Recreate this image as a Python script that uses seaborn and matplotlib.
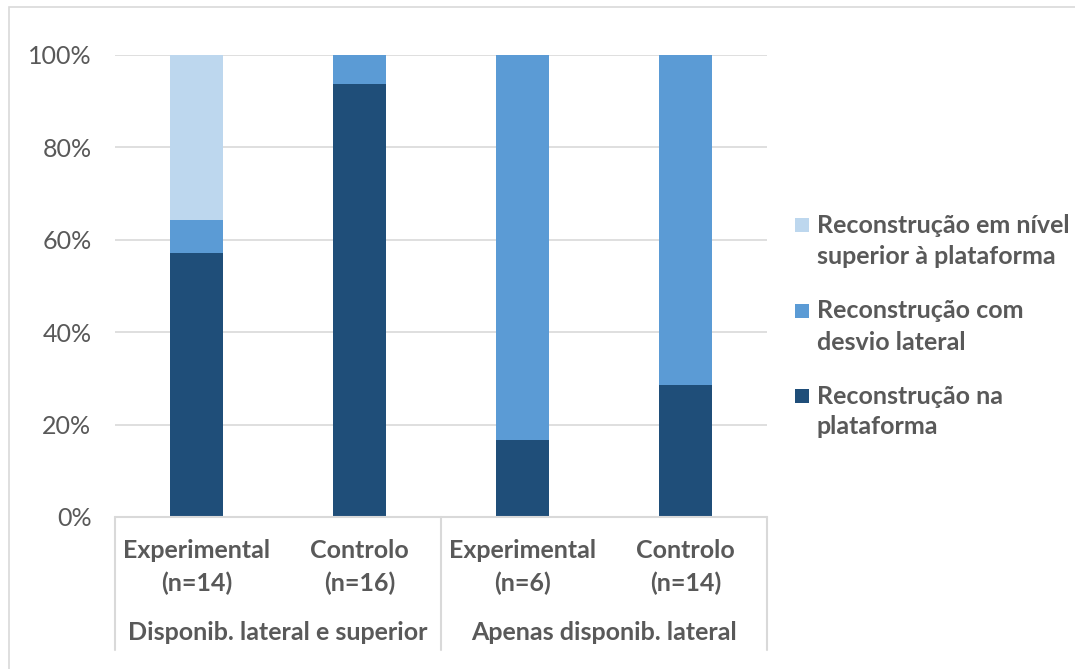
import matplotlib
matplotlib.use("Agg")
import matplotlib.pyplot as plt
from matplotlib.patches import Rectangle
from matplotlib.lines import Line2D
import seaborn as sns
import pandas as pd

# Data: share of each reconstruction outcome per group (%)
categories = ["Experimental\n(n=14)", "Controlo\n(n=16)", "Experimental\n(n=6)", "Controlo\n(n=14)"]
groups = ["Disponib. lateral e superior", "Apenas disponib. lateral"]
na_plataforma = [57.14, 93.75, 16.67, 28.57]
desvio_lateral = [7.14, 6.25, 83.33, 71.43]
nivel_superior = [35.71, 0.0, 0.0, 0.0]
series_names = [["Reconstrução em nível", "superior à plataforma"],
                ["Reconstrução com", "desvio lateral"],
                ["Reconstrução na", "plataforma"]]
colors = ["#BDD7EE", "#5B9BD5", "#1F4E79"]

sns.set_theme(style="white")
plt.rcParams["font.family"] = ["Lato", "DejaVu Sans"]
text_gray = "#595959"
grid_gray = "#D9D9D9"

W, H = 1075, 669
fig = plt.figure(figsize=(W / 100, H / 100), dpi=100)
ax = fig.add_axes([115 / W, 1 - 517 / H, (767 - 115) / W, (517 - 55) / H])

df = pd.DataFrame({
    "cat": categories,
    "na": na_plataforma,
    "desvio": desvio_lateral,
    "superior": nivel_superior,
})
df["top2"] = df["na"] + df["desvio"]
df["top3"] = df["top2"] + df["superior"]

# Stacked bars: draw cumulative totals, tallest first
for col, color in zip(["top3", "top2", "na"], colors):
    sns.barplot(data=df, x="cat", y=col, order=categories, color=color,
                width=0.32, saturation=1, ax=ax, zorder=3, linewidth=0)

ax.set_ylim(0, 100)
ax.set_xlim(-0.5, 3.5)
ax.set_yticks(range(0, 101, 20))
ax.set_yticklabels([f"{v}%" for v in range(0, 101, 20)], color=text_gray, fontsize=18)
ax.yaxis.grid(True, color=grid_gray, linewidth=1.2, zorder=0)
ax.set_axisbelow(True)
for s in ax.spines.values():
    s.set_visible(False)
ax.tick_params(axis="y", length=0, pad=17)
ax.tick_params(axis="x", length=0, pad=16)
ax.set_xticks(range(4))
ax.set_xticklabels(categories, color=text_gray, fontsize=18, fontweight="bold", linespacing=1.5)
ax.set_xlabel("")
ax.set_ylabel("")

# Bottom axis line and group separators
ax.axhline(0, color=grid_gray, linewidth=1.5, zorder=4, clip_on=False)
sep_bottom = -(650 - 517) / 462
for xpos in [-0.5, 1.5, 3.5]:
    ax.add_line(Line2D([xpos, xpos], [0, sep_bottom * 100], color=grid_gray, linewidth=1.5,
                       transform=ax.transData, clip_on=False))
for i, g in enumerate(groups):
    ax.text(0.5 + 2 * i, -(633 - 517) / 462 * 100, g, ha="center", va="center",
            color=text_gray, fontsize=18, fontweight="bold", clip_on=False)

# Legend: colour square beside a two-line label
entry_top = [225, 311, 396]
for lines, color, yc in zip(series_names, colors, entry_top):
    fig.add_artist(Rectangle((795 / W, 1 - (yc + 7) / H), 14 / W, 14 / H,
                             transform=fig.transFigure, facecolor=color, edgecolor="none"))
    for k, line in enumerate(lines):
        fig.text(817 / W, 1 - (yc + 31 * k) / H, line, ha="left", va="center",
                 color=text_gray, fontsize=18, fontweight="bold")

# Outer chart frame
fig.add_artist(Rectangle((9 / W, -0.05), 1.2, 1 - 7 / H + 0.05, transform=fig.transFigure,
                         fill=False, edgecolor=grid_gray, linewidth=1.2))

fig.savefig("out.png", dpi=100, facecolor="white")
